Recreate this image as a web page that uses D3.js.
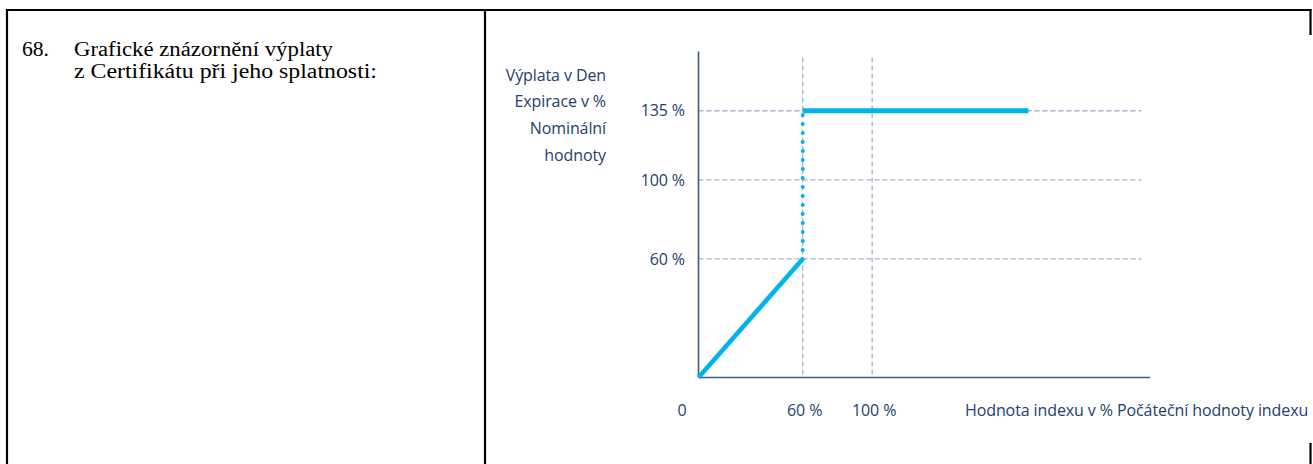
<!DOCTYPE html>
<html>
<head>
<meta charset="utf-8">
<script src="https://cdn.jsdelivr.net/npm/d3@7"></script>
<style>
  body { margin: 0; background: #fff; }
  .note { font-family: "Liberation Serif", "Times New Roman", serif; font-size: 20px; fill: #000; }
  .lbl { font-family: "Open Sans", sans-serif; font-size: 16px; fill: #22416d; letter-spacing: -0.1px; }
</style>
</head>
<body>
<div id="chart"></div>
<script>
// data
const noteLines = ["Grafické znázornění výplaty", "z Certifikátu při jeho splatnosti:"];
const noteNumber = "68.";
const yTitle = ["Výplata v Den", "Expirace v %", "Nominální", "hodnoty"];
const xTitle = "Hodnota indexu v % Počáteční hodnoty indexu";
const xTicks = [0, 60, 100];
const yTicks = [60, 100, 135];
const rampX = [0, 60], rampY = [0, 60];
const jumpX = [60, 60], jumpY = [60, 135];
const capX = [60, 190], capY = [135, 135];

const W = 1313, H = 464;
const svg = d3.select('#chart').append('svg')
    .attr('width', W).attr('height', H);

// table frame
const frame = svg.append('g').attr('stroke', '#000').attr('stroke-width', 2.2);
frame.append('line').attr('x1', 6).attr('x2', 1311.5).attr('y1', 10).attr('y2', 10);
frame.append('line').attr('x1', 7).attr('x2', 7).attr('y1', 9).attr('y2', H);
frame.append('line').attr('x1', 485).attr('x2', 485).attr('y1', 9).attr('y2', H);
frame.append('line').attr('x1', 1310.5).attr('x2', 1310.5).attr('y1', 9).attr('y2', 35);
frame.append('line').attr('x1', 1310.5).attr('x2', 1310.5).attr('y1', 443).attr('y2', H);

// left cell text (the scan is a bit wide, so stretch the lines)
const noteWidths = [259, 303];
svg.append('text').attr('class', 'note').attr('x', 22).attr('y', 56)
    .attr('textLength', 27).attr('lengthAdjust', 'spacingAndGlyphs')
    .text(noteNumber);
svg.selectAll('text.line').data(noteLines).enter().append('text')
    .attr('class', 'note line')
    .attr('x', 74)
    .attr('y', (d, i) => 56 + i * 22)
    .attr('textLength', (d, i) => noteWidths[i])
    .attr('lengthAdjust', 'spacingAndGlyphs')
    .text(d => d);

// chart
const x = d3.scaleLinear().domain([0, 260]).range([698.5, 1150]);
const y = d3.scaleLinear().domain([0, 165]).range([377.5, 51.5]);

const grid = svg.append('g')
    .attr('stroke', '#a3b4cf').attr('stroke-width', 1.3)
    .attr('stroke-dasharray', '5,3');
grid.selectAll('line.h').data(yTicks).enter().append('line')
    .attr('x1', x(0)).attr('x2', x(255))
    .attr('y1', d => y(d)).attr('y2', d => y(d));
grid.selectAll('line.v').data(xTicks.filter(d => d > 0)).enter().append('line')
    .attr('x1', d => x(d)).attr('x2', d => x(d))
    .attr('y1', y(162)).attr('y2', y(0));

// axes
svg.append('line').attr('x1', x(0)).attr('x2', x(0))
    .attr('y1', y(165)).attr('y2', y(0))
    .attr('stroke', '#3a5b87').attr('stroke-width', 1.6);
svg.append('line').attr('x1', x(0)).attr('x2', x(260))
    .attr('y1', y(0)).attr('y2', y(0))
    .attr('stroke', '#3a5b87').attr('stroke-width', 1.6);

// tick labels
svg.selectAll('text.yt').data(yTicks).enter().append('text')
    .attr('class', 'lbl yt')
    .attr('x', 685).attr('y', d => y(d)).attr('dy', '0.35em')
    .attr('text-anchor', 'end')
    .text(d => d + ' %');
svg.selectAll('text.xt').data(xTicks).enter().append('text')
    .attr('class', 'lbl xt')
    .attr('x', d => d === 0 ? 682 : x(d) + 2).attr('y', 410).attr('dy', '0.35em')
    .attr('text-anchor', 'middle')
    .text(d => d === 0 ? '0' : d + ' %');

// titles
svg.selectAll('text.ytt').data(yTitle).enter().append('text')
    .attr('class', 'lbl ytt')
    .attr('x', 606).attr('y', (d, i) => 75 + i * 26.7).attr('dy', '0.35em')
    .attr('text-anchor', 'end')
    .text(d => d);
svg.append('text').attr('class', 'lbl')
    .attr('x', 965).attr('y', 410).attr('dy', '0.35em')
    .text(xTitle);

// payoff line
const line = d3.line().x(d => x(d[0])).y(d => y(d[1]));
const blue = '#00b3ec';
svg.append('path').datum(d3.zip(rampX, rampY))
    .attr('d', line).attr('fill', 'none')
    .attr('stroke', blue).attr('stroke-width', 4.5);
svg.append('path').datum(d3.zip(jumpX, jumpY))
    .attr('d', line).attr('fill', 'none')
    .attr('stroke', blue).attr('stroke-width', 4)
    .attr('stroke-linecap', 'round')
    .attr('stroke-dasharray', '0,9');
svg.append('path').datum(d3.zip(capX, capY))
    .attr('d', line).attr('fill', 'none')
    .attr('stroke', blue).attr('stroke-width', 5);
</script>
</body>
</html>
